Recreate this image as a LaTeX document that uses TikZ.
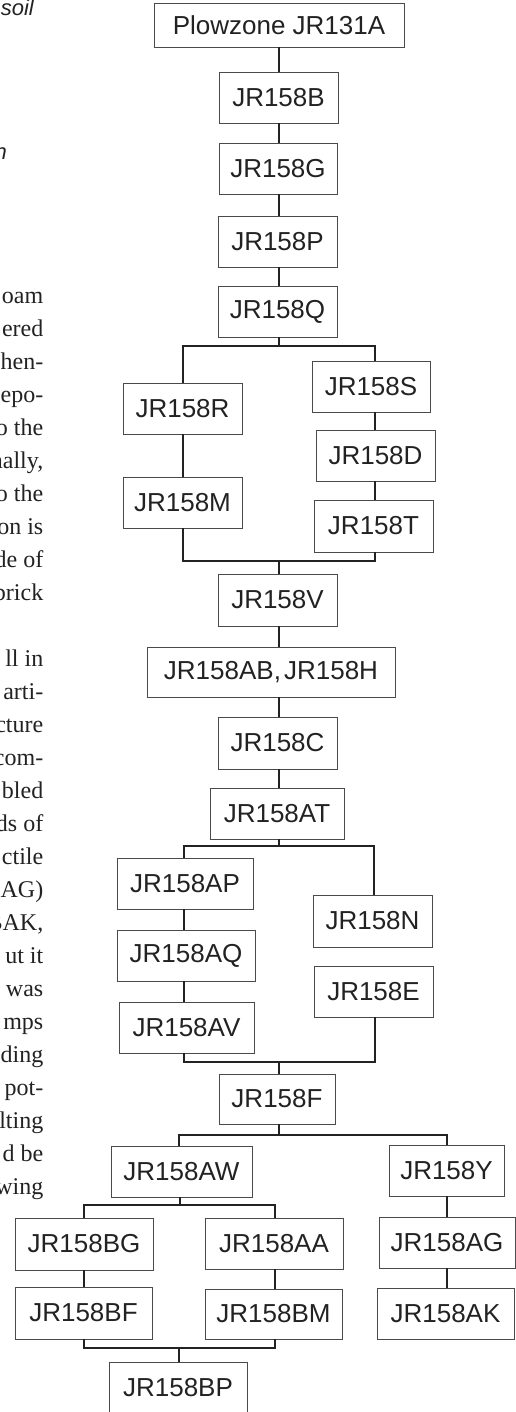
\documentclass[tikz,border=0pt]{standalone}
\usepackage{fontspec}
\setmainfont{Liberation Serif}
\newfontfamily\labfont{Liberation Sans}
\definecolor{boxgray}{HTML}{4A4A4A}
\definecolor{linegray}{HTML}{222222}
\definecolor{txtgray}{HTML}{222222}
\newcommand\bxn[6]{\node[bx,minimum width=#4pt,minimum height=#5pt] (#1) at (#2,#3) {#6};}
\begin{document}
\begin{tikzpicture}[x=1pt,y=-1pt,
  bx/.style={draw=boxgray, line width=0.9pt, inner sep=0pt, text=txtgray,
             font=\labfont\fontsize{26}{30}\selectfont},
  ln/.style={draw=linegray, line width=1.8pt, line join=miter},
  bt/.style={anchor=base east, inner sep=0pt, text=txtgray,
             font=\fontsize{24}{33}\selectfont},
  it/.style={anchor=base east, inner sep=0pt, text=txtgray,
             font=\labfont\itshape\fontsize{22}{26}\selectfont}]
\useasboundingbox (0,0) rectangle (516,1412);
\clip (0,0) rectangle (516,1412);
% --- cropped body text on the left ---
\node[it] (t0) at (34,16) {soil};
\node[it] (t1) at (7,160) {n};
\foreach \txt [count=\i from 0] in {oam,ered,hen-,epo-,to the,{nally,},to the,on is,de of,brick,{},ll in,arti-,cture,com-,bled,ds of,ctile,AG),{BAK,},ut it,n was,mps,ding,pot-,lting,d be,wing}{
  \node[bt] (l\i) at (43.5,{303+33*\i}) {\txt};
}
% --- boxes ---
\bxn{pz}{279}{25}{250}{44}{Plowzone JR131A}
\bxn{b}{278.5}{97.5}{119}{51}{JR158B}
\bxn{g}{278}{168.5}{118}{51}{JR158G}
\bxn{p}{277.5}{241.5}{119}{51}{JR158P}
\bxn{q}{277.5}{311.5}{119}{51}{JR158Q}
\bxn{r}{182.5}{408.5}{119}{51}{JR158R}
\bxn{s}{371}{386.5}{118}{51}{JR158S}
\bxn{d}{375.5}{455.5}{119}{51}{JR158D}
\bxn{m}{182.5}{502.5}{119}{51}{JR158M}
\bxn{t}{373.5}{526}{119}{52}{JR158T}
\bxn{v}{277.5}{600}{119}{52}{JR158V}
\bxn{ab}{271}{672}{248}{50}{JR158AB,\hspace{0.12em}JR158H}
\bxn{c}{277.5}{743}{119}{52}{JR158C}
\bxn{at}{277}{813.5}{134}{51}{JR158AT}
\bxn{ap}{185}{883.5}{136}{51}{JR158AP}
\bxn{n}{372.5}{921}{119}{52}{JR158N}
\bxn{aq}{186}{955.5}{138}{51}{JR158AQ}
\bxn{e}{373.5}{991.5}{119}{51}{JR158E}
\bxn{av}{186.5}{1027.5}{135}{51}{JR158AV}
\bxn{f}{277}{1099}{116}{50}{JR158F}
\bxn{aw}{181.5}{1171.5}{141}{51}{JR158AW}
\bxn{y}{446.5}{1170.5}{115}{51}{JR158Y}
\bxn{bg}{84}{1244}{138}{52}{JR158BG}
\bxn{aa}{274}{1243.5}{138}{51}{JR158AA}
\bxn{ag}{447}{1242.5}{136}{51}{JR158AG}
\bxn{bf}{83.5}{1313}{137}{52}{JR158BF}
\bxn{bm}{273.5}{1314}{137}{50}{JR158BM}
\bxn{ak}{445.5}{1313.5}{137}{51}{JR158AK}
\bxn{bp}{178}{1387.5}{138}{51}{JR158BP}
% --- junction points ---
\coordinate (j1) at (279,346);
\coordinate (j2) at (279,561);
\coordinate (j3) at (279,846);
\coordinate (j4) at (279,1062);
\coordinate (j5) at (279,1135);
\coordinate (j6) at (180,1205);
\coordinate (j7) at (179,1348);
% --- connectors ---
\draw[ln] (pz.south -| 279,0) -- (b.north -| 279,0);
\draw[ln] (b.south -| 279,0) -- (g.north -| 279,0);
\draw[ln] (g.south -| 279,0) -- (p.north -| 279,0);
\draw[ln] (p.south -| 279,0) -- (q.north -| 279,0);
\draw[ln] (q.south -| 279,0) -- (j1);
\draw[ln] (r.north -| 183,0) |- (j1) -| (s.north -| 375,0);
\draw[ln] (r.south -| 183,0) -- (m.north -| 183,0);
\draw[ln] (s.south -| 375,0) -- (d.north -| 375,0);
\draw[ln] (d.south -| 375,0) -- (t.north -| 375,0);
\draw[ln] (m.south -| 183,0) |- (j2) -| (t.south -| 375,0);
\draw[ln] (j2) -- (v.north -| 279,0);
\draw[ln] (v.south -| 279,0) -- (ab.north -| 279,0);
\draw[ln] (ab.south -| 279,0) -- (c.north -| 279,0);
\draw[ln] (c.south -| 279,0) -- (at.north -| 279,0);
\draw[ln] (at.south -| 279,0) -- (j3);
\draw[ln] (ap.north -| 184,0) |- (j3) -| (n.north -| 374,0);
\draw[ln] (ap.south -| 184,0) -- (aq.north -| 184,0);
\draw[ln] (aq.south -| 184,0) -- (av.north -| 184,0);
\draw[ln] (av.south -| 184,0) |- (j4) -| (e.south -| 375,0);
\draw[ln] (j4) -- (f.north -| 279,0);
\draw[ln] (f.south -| 279,0) -- (j5);
\draw[ln] (aw.north -| 179,0) |- (j5) -| (y.north -| 447,0);
\draw[ln] (aw.south -| 180,0) -- (j6);
\draw[ln] (bg.north -| 84,0) |- (j6) -| (aa.north -| 275,0);
\draw[ln] (bg.south -| 84,0) -- (bf.north -| 84,0);
\draw[ln] (aa.south -| 275,0) -- (bm.north -| 275,0);
\draw[ln] (y.south -| 447,0) -- (ag.north -| 447,0);
\draw[ln] (ag.south -| 447,0) -- (ak.north -| 447,0);
\draw[ln] (bf.south -| 84,0) |- (j7) -| (bm.south -| 275,0);
\draw[ln] (j7) -- (bp.north -| 179,0);
\end{tikzpicture}
\end{document}
